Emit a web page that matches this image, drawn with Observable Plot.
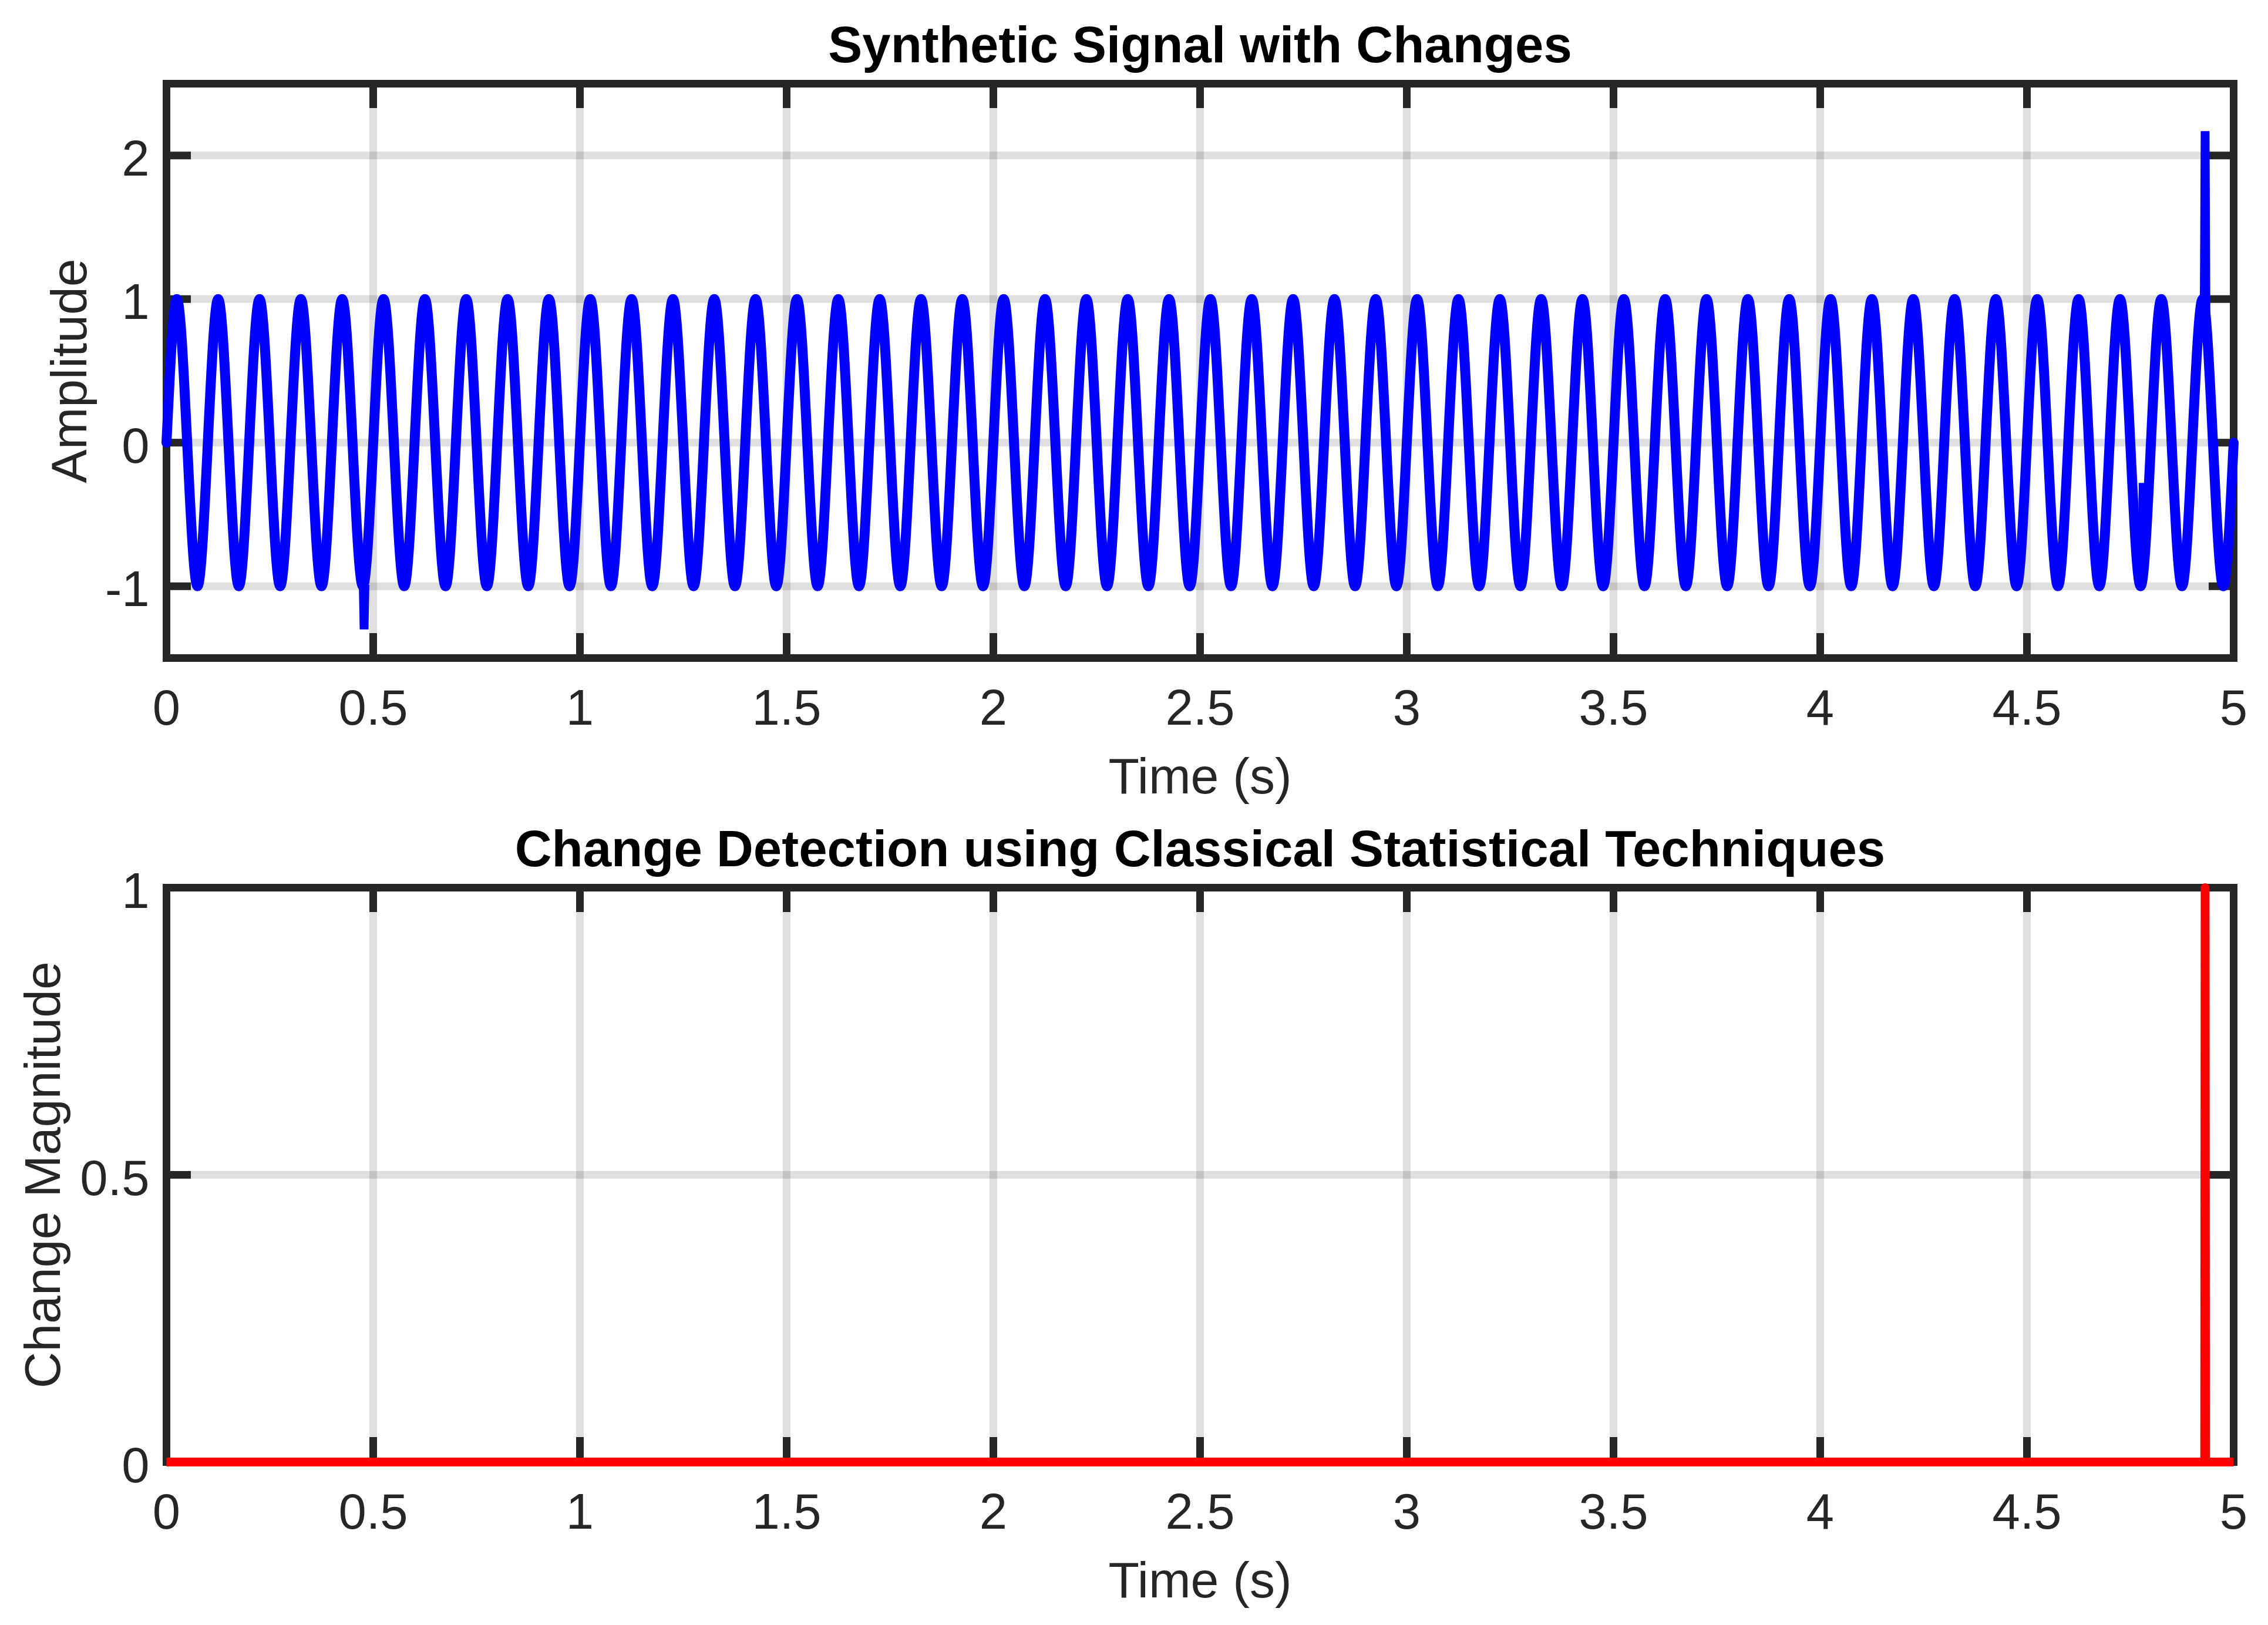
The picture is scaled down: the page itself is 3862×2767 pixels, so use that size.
<!DOCTYPE html>
<html>
<head>
<meta charset="utf-8">
<script src="https://cdn.jsdelivr.net/npm/d3@7"></script>
<script src="https://cdn.jsdelivr.net/npm/@observablehq/plot@0.6"></script>
<style>
  html, body { margin: 0; padding: 0; background: #ffffff; }
  #chart { width: 3862px; height: 2767px; overflow: hidden; background: #ffffff; }
  #chart svg { display: block; }
</style>
</head>
<body>
<div id="chart"></div>
<script>
// ---------------- Data ----------------
// Synthetic signal: samples at peaks, troughs and zero crossings (s)
const signalTime = [
  0,0.025,0.05,0.075,0.1,0.125,0.15,0.175,0.2,0.225,0.25,0.275,0.3,0.325,0.35,0.375,0.4,0.425,0.45,0.475,
  0.5,0.525,0.55,0.575,0.6,0.625,0.65,0.675,0.7,0.725,0.75,0.775,0.8,0.825,0.85,0.875,0.9,0.925,0.95,0.975,
  1,1.025,1.05,1.075,1.1,1.125,1.15,1.175,1.2,1.225,1.25,1.275,1.3,1.325,1.35,1.375,1.4,1.425,1.45,1.475,
  1.5,1.525,1.55,1.575,1.6,1.625,1.65,1.675,1.7,1.725,1.75,1.775,1.8,1.825,1.85,1.875,1.9,1.925,1.95,1.975,
  2,2.025,2.05,2.075,2.1,2.125,2.15,2.175,2.2,2.225,2.25,2.275,2.3,2.325,2.35,2.375,2.4,2.425,2.45,2.475,
  2.5,2.525,2.55,2.575,2.6,2.625,2.65,2.675,2.7,2.725,2.75,2.775,2.8,2.825,2.85,2.875,2.9,2.925,2.95,2.975,
  3,3.025,3.05,3.075,3.1,3.125,3.15,3.175,3.2,3.225,3.25,3.275,3.3,3.325,3.35,3.375,3.4,3.425,3.45,3.475,
  3.5,3.525,3.55,3.575,3.6,3.625,3.65,3.675,3.7,3.725,3.75,3.775,3.8,3.825,3.85,3.875,3.9,3.925,3.95,3.975,
  4,4.025,4.05,4.075,4.1,4.125,4.15,4.175,4.2,4.225,4.25,4.275,4.3,4.325,4.35,4.375,4.4,4.425,4.45,4.475,
  4.5,4.525,4.55,4.575,4.6,4.625,4.65,4.675,4.7,4.725,4.75,4.775,4.8,4.825,4.85,4.875,4.9,4.925,4.95,4.975,
  5
];
const signalValue = [
  0,1,0,-1,0,1,0,-1,0,1,0,-1,0,1,0,-1,0,1,0,-1,
  0,1,0,-1,0,1,0,-1,0,1,0,-1,0,1,0,-1,0,1,0,-1,
  0,1,0,-1,0,1,0,-1,0,1,0,-1,0,1,0,-1,0,1,0,-1,
  0,1,0,-1,0,1,0,-1,0,1,0,-1,0,1,0,-1,0,1,0,-1,
  0,1,0,-1,0,1,0,-1,0,1,0,-1,0,1,0,-1,0,1,0,-1,
  0,1,0,-1,0,1,0,-1,0,1,0,-1,0,1,0,-1,0,1,0,-1,
  0,1,0,-1,0,1,0,-1,0,1,0,-1,0,1,0,-1,0,1,0,-1,
  0,1,0,-1,0,1,0,-1,0,1,0,-1,0,1,0,-1,0,1,0,-1,
  0,1,0,-1,0,1,0,-1,0,1,0,-1,0,1,0,-1,0,1,0,-1,
  0,1,0,-1,0,1,0,-1,0,1,0,-1,0,1,0,-1,0,1,0,-1,
  0
];
// Abrupt changes (short glitches) in the signal
const glitchId    = ["dip", "dip", "dip", "bumpA", "bumpA", "bumpA", "bumpB", "bumpB", "bumpB", "spike", "spike", "spike"];
const glitchTime  = [0.476, 0.478, 0.480, 4.574, 4.576, 4.578, 4.779, 4.781, 4.783, 4.929, 4.931, 4.933];
const glitchValue = [-1.0, -1.3, -0.99, -1.0, -0.72, -0.99, -0.97, -0.28, -0.88, 0.97, 2.17, 0.88];

// Change detection output
const changeTime  = [0, 4.930, 4.931, 4.932, 5];
const changeValue = [0, 0, 1, 0, 0];

// Axes ticks
const timeTicks = [0, 0.5, 1, 1.5, 2, 2.5, 3, 3.5, 4, 4.5, 5];
const ampTicks = [-1, 0, 1, 2];
const magTicks = [0, 0.5, 1];
const timeDomain = [0, 5];
const ampDomain = [-1.5, 2.5];
const magDomain = [0, 1];

const titles = ["Synthetic Signal with Changes", "Change Detection using Classical Statistical Techniques"];
const xLabel = "Time (s)";
const yLabels = ["Amplitude", "Change Magnitude"];

// ---------------- Rendering ----------------
const W = 3862;
const axisColor = "#262626";
const FONT = "'Liberation Sans', Arial, Helvetica, sans-serif";
const fmt = d => String(d);

const signalRows = signalTime.map((t, i) => ({t, v: signalValue[i]}));
const glitchRows = glitchTime.map((t, i) => ({t, v: glitchValue[i], id: glitchId[i]}));
const changeRows = changeTime.map((t, i) => ({t, v: changeValue[i]}));

function panel({height, marginTop, marginBottom, yDomain, yTicks, title, yLabel, yLabelDx, dataMarks}) {
  const marginLeft = 283, marginRight = 59;
  const plotW = W - marginLeft - marginRight;
  const plotH = height - marginTop - marginBottom;
  const tickLen = 42;
  return Plot.plot({
    width: W,
    height,
    marginLeft, marginRight, marginTop, marginBottom,
    style: {fontFamily: FONT, fontSize: "85px", background: "#ffffff", color: axisColor, overflow: "visible"},
    x: {domain: timeDomain, axis: null},
    y: {domain: yDomain, axis: null},
    marks: [
      Plot.ruleX(timeTicks, {x: d => d, stroke: axisColor, strokeOpacity: 0.15, strokeWidth: 13}),
      Plot.ruleY(yTicks, {y: d => d, stroke: axisColor, strokeOpacity: 0.15, strokeWidth: 13}),
      Plot.frame({stroke: axisColor, strokeWidth: 13}),
      Plot.tickX(timeTicks, {x: d => d, insetTop: plotH - tickLen, stroke: axisColor, strokeWidth: 13}),
      Plot.tickX(timeTicks, {x: d => d, insetBottom: plotH - tickLen, stroke: axisColor, strokeWidth: 13}),
      Plot.tickY(yTicks, {y: d => d, insetRight: plotW - tickLen, stroke: axisColor, strokeWidth: 13}),
      Plot.tickY(yTicks, {y: d => d, insetLeft: plotW - tickLen, stroke: axisColor, strokeWidth: 13}),
      Plot.text(timeTicks, {x: d => d, text: fmt, frameAnchor: "bottom", lineAnchor: "top", dy: 53, fontSize: 85, fill: axisColor}),
      Plot.text(yTicks, {y: d => d, text: fmt, frameAnchor: "left", textAnchor: "end", lineAnchor: "middle", dx: -29, dy: 7, fontSize: 85, fill: axisColor}),
      Plot.text([xLabel], {frameAnchor: "bottom", lineAnchor: "bottom", dy: 230, fontSize: 86, fill: axisColor}),
      Plot.text([yLabel], {frameAnchor: "left", rotate: -90, textAnchor: "middle", lineAnchor: "bottom", dx: yLabelDx, fontSize: 86, fill: axisColor}),
      Plot.text([title], {frameAnchor: "top", lineAnchor: "bottom", dy: -37, fontSize: 87, fontWeight: "bold", fill: "#000000"}),
      ...dataMarks
    ]
  });
}

const signalPanel = panel({
  height: 1380, marginTop: 142, marginBottom: 260,
  yDomain: ampDomain, yTicks: ampTicks,
  title: titles[0], yLabel: yLabels[0], yLabelDx: -137,
  dataMarks: [
    Plot.line(signalRows, {x: "t", y: "v", stroke: "#0000ff", strokeWidth: 17, curve: "natural"}),
    Plot.line(glitchRows, {x: "t", y: "v", z: "id", stroke: "#0000ff", strokeWidth: 15, strokeLinejoin: "bevel", strokeLinecap: "butt"})
  ]
});

const changePanel = panel({
  height: 1387, marginTop: 131, marginBottom: 278,
  yDomain: magDomain, yTicks: magTicks,
  title: titles[1], yLabel: yLabels[1], yLabelDx: -182,
  dataMarks: [
    Plot.line(changeRows, {x: "t", y: "v", stroke: "#ff0000", strokeWidth: 15, strokeLinecap: "butt", strokeLinejoin: "round"})
  ]
});

const chartEl = document.getElementById("chart");
chartEl.appendChild(signalPanel);
chartEl.appendChild(changePanel);
</script>
</body>
</html>
